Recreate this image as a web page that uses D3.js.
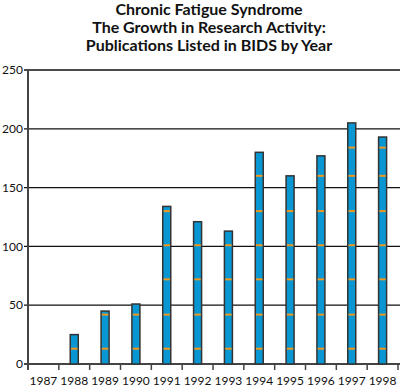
<!DOCTYPE html>
<html>
<head>
<meta charset="utf-8">
<script src="https://cdn.jsdelivr.net/npm/d3@7"></script>
<style>
  body { margin: 0; background: #fff; }
  svg { display: block; font-family: Lato, "DejaVu Sans", sans-serif; }
  .title { font-weight: bold; font-size: 16px; fill: #111; }
  .tickLabel { font-size: 12px; fill: #111; }
</style>
</head>
<body>
<script>
// values
var years = ["1987", "1988", "1989", "1990", "1991", "1992", "1993", "1994", "1995", "1996", "1997", "1998"];
var publications = [0, 25, 45, 51, 134, 121, 113, 180, 160, 177, 205, 193];
var yTicks = [0, 50, 100, 150, 200, 250];
var dashLevels = [13, 42, 72, 101, 130, 160, 184];
var titleLines = ["Chronic Fatigue Syndrome", "The Growth in Research Activity:", "Publications Listed in BIDS by Year"];

var width = 400, height = 392;
var margin = {top: 70, right: 2, bottom: 28, left: 28};

var svg = d3.select("body").append("svg")
    .attr("width", width)
    .attr("height", height);

var x = d3.scaleBand()
    .domain(years)
    .range([margin.left, width - margin.right]);

var y = d3.scaleLinear()
    .domain([0, 250])
    .range([height - margin.bottom, margin.top]);

// title
svg.append("g").selectAll("text")
    .data(titleLines)
  .enter().append("text")
    .attr("class", "title")
    .attr("x", 209)
    .attr("y", function(d, i) { return 15 + i * 18; })
    .attr("text-anchor", "middle")
    .text(function(d) { return d; });

// horizontal grid lines
svg.append("g").selectAll("line")
    .data(yTicks)
  .enter().append("line")
    .attr("x1", margin.left - 4)
    .attr("x2", width)
    .attr("y1", function(d) { return y(d); })
    .attr("y2", function(d) { return y(d); })
    .attr("stroke", function(d) { return d == 0 ? "#444" : "#111"; })
    .attr("stroke-width", function(d) { return d == 0 ? 2 : 1.3; });

// y labels
svg.append("g").selectAll("text")
    .data(yTicks)
  .enter().append("text")
    .attr("class", "tickLabel")
    .attr("x", margin.left - 5)
    .attr("y", function(d) { return y(d); })
    .attr("dy", "0.35em")
    .attr("text-anchor", "end")
    .text(function(d) { return d; });

// x ticks at band edges
var edges = years.map(function(d) { return x(d); }).concat([x.range()[1]]);
svg.append("g").selectAll("line")
    .data(edges)
  .enter().append("line")
    .attr("x1", function(d) { return d; })
    .attr("x2", function(d) { return d; })
    .attr("y1", y(0))
    .attr("y2", y(0) + 6)
    .attr("stroke", "#444")
    .attr("stroke-width", 1.5);

// y axis line
svg.append("line")
    .attr("x1", margin.left)
    .attr("x2", margin.left)
    .attr("y1", y(250))
    .attr("y2", y(0) + 6)
    .attr("stroke", "#444")
    .attr("stroke-width", 2);

// year labels
svg.append("g").selectAll("text")
    .data(years)
  .enter().append("text")
    .attr("class", "tickLabel")
    .attr("x", function(d) { return x(d) + x.bandwidth() / 2; })
    .attr("y", 385)
    .attr("text-anchor", "middle")
    .text(function(d) { return d; });

// bars
var barW = 8;
var data = years.map(function(d, i) { return {year: d, value: publications[i]}; })
    .filter(function(d) { return d.value > 0; });

var bars = svg.append("g").selectAll("g")
    .data(data)
  .enter().append("g");

bars.append("rect")
    .attr("x", function(d) { return x(d.year) + x.bandwidth() / 2 - barW / 2; })
    .attr("y", function(d) { return y(d.value); })
    .attr("width", barW)
    .attr("height", function(d) { return y(0) - y(d.value); })
    .attr("fill", "#0897d3")
    .attr("stroke", "#333")
    .attr("stroke-width", 1.5);

// orange dashes inside each bar
bars.selectAll("line")
    .data(function(d) {
      return dashLevels.filter(function(l) { return l < d.value; })
        .map(function(l) { return {year: d.year, level: l}; });
    })
  .enter().append("line")
    .attr("x1", function(d) { return x(d.year) + x.bandwidth() / 2 - barW / 2 + 0.8; })
    .attr("x2", function(d) { return x(d.year) + x.bandwidth() / 2 + barW / 2 - 0.8; })
    .attr("y1", function(d) { return y(d.level); })
    .attr("y2", function(d) { return y(d.level); })
    .attr("stroke", "#f0981e")
    .attr("stroke-width", 2);
</script>
</body>
</html>
